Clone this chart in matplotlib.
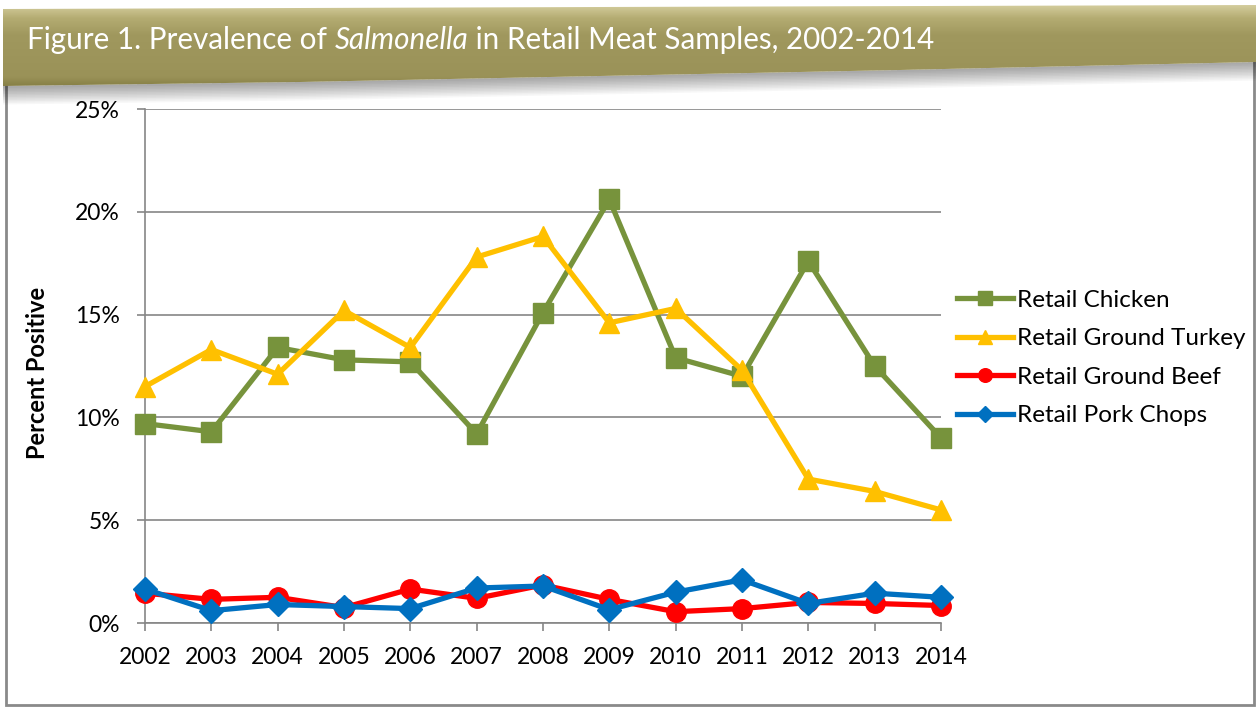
import numpy as np
import matplotlib
matplotlib.use("Agg")
import matplotlib.pyplot as plt
from matplotlib.patches import Polygon, Rectangle
from matplotlib.colors import LinearSegmentedColormap
from matplotlib.ticker import PercentFormatter

plt.rcParams['font.family'] = ['Lato', 'DejaVu Sans']

# data (percent positive)
years = [2002, 2003, 2004, 2005, 2006, 2007, 2008, 2009, 2010, 2011, 2012, 2013, 2014]
chicken = [9.7, 9.3, 13.4, 12.8, 12.7, 9.2, 15.1, 20.6, 12.9, 12.0, 17.6, 12.5, 9.0]
turkey = [11.5, 13.3, 12.1, 15.2, 13.4, 17.8, 18.8, 14.6, 15.3, 12.3, 7.0, 6.4, 5.5]
beef = [1.45, 1.15, 1.25, 0.75, 1.65, 1.2, 1.85, 1.15, 0.55, 0.7, 1.0, 0.95, 0.85]
pork = [1.65, 0.6, 0.9, 0.8, 0.7, 1.7, 1.8, 0.65, 1.5, 2.1, 0.95, 1.45, 1.25]

series = [
    ("Retail Chicken", chicken, "#77933C", "s", 15),
    ("Retail Ground Turkey", turkey, "#FFC000", "^", 15),
    ("Retail Ground Beef", beef, "#FF0000", "o", 14),
    ("Retail Pork Chops", pork, "#0070C0", "D", 12),
]

W, H = 1256, 707
fig = plt.figure(figsize=(W / 100, H / 100), dpi=100)

# background layer in pixel coords: frame + title banner
bg = fig.add_axes([0, 0, 1, 1], zorder=0)
bg.axis("off")

bg.add_patch(Rectangle((6, 60), 1248, 645, fill=False, ec="#8a8a8a", lw=2))

# soft shadow under the banner
for i in range(12):
    off = 2 + i * 1.5
    shade = Polygon([(3, 86 + off), (300, 82 + off), (600, 76 + off), (900, 70 + off),
                     (1256, 62 + off), (1256, 62), (900, 70), (600, 76), (300, 82), (3, 86)],
                    closed=True, fc="#000000", ec="none", alpha=0.03)
    bg.add_patch(shade)

banner = Polygon([(3, 9), (600, 7), (1256, 5), (1256, 62), (900, 70), (600, 76), (300, 82), (3, 86)],
                 closed=True, fc="none", ec="none")
bg.add_patch(banner)
cmap = LinearSegmentedColormap.from_list(
    "banner", [(0, "#d3cc9c"), (0.15, "#b4ac72"), (0.35, "#a0985e"), (0.85, "#9a9258"), (1, "#7f783f")])
img = bg.imshow(np.linspace(0, 1, 100).reshape(-1, 1), extent=(0, W, 90, 5), cmap=cmap,
                aspect="auto", zorder=1)
img.set_clip_path(banner)
bg.set_xlim(0, W)
bg.set_ylim(H, 0)

# title with italic genus name, pieced together
renderer = fig.canvas.get_renderer()
ty = 1 - 40 / H
parts = [("Figure 1. Prevalence of ", "normal"), ("Salmonella", "italic"),
         (" in Retail Meat Samples, 2002-2014", "normal")]
xpos = 27 / W
for txt, st in parts:
    t = fig.text(xpos, ty, txt, color="white", fontsize=21.3, va="center", ha="left", style=st)
    xpos = t.get_window_extent(renderer=renderer).x1 / W

# main chart
ax = fig.add_axes([145 / W, 1 - 623 / H, (941 - 145) / W, (623 - 109) / H], zorder=2)
ax.patch.set_alpha(0)

for label, vals, color, marker, ms in series:
    ax.plot(years, vals, color=color, lw=3.8, marker=marker, markersize=ms,
            label=label, zorder=3, clip_on=False)

ax.set_xlim(2002, 2014)
ax.set_ylim(0, 25)
ax.set_xticks(years)
ax.set_yticks([0, 5, 10, 15, 20, 25])
ax.yaxis.set_major_formatter(PercentFormatter(xmax=100, decimals=0))
ax.grid(axis="y", color="#868686", lw=1.2)
ax.set_axisbelow(True)
for s in ["top", "right"]:
    ax.spines[s].set_visible(False)
for s in ["left", "bottom"]:
    ax.spines[s].set_color("#868686")
    ax.spines[s].set_linewidth(1.2)
ax.tick_params(axis="both", direction="out", length=6, width=1.2, color="#868686",
               labelsize=16.5)
ax.tick_params(axis="y", pad=12)
ax.tick_params(axis="x", pad=11)
ax.set_ylabel("Percent Positive", fontsize=17, fontweight="bold", va="center")
ax.yaxis.set_label_coords((38 - 145) / 796, 0.486)

fig.legend(loc="center left", bbox_to_anchor=(957 / W, 1 - 358 / H), frameon=False,
           borderpad=0, borderaxespad=0,
           fontsize=17.5, handlelength=2.3, handletextpad=0.15, labelspacing=0.72, markerscale=0.7)

fig.savefig("out.png", dpi=100)
